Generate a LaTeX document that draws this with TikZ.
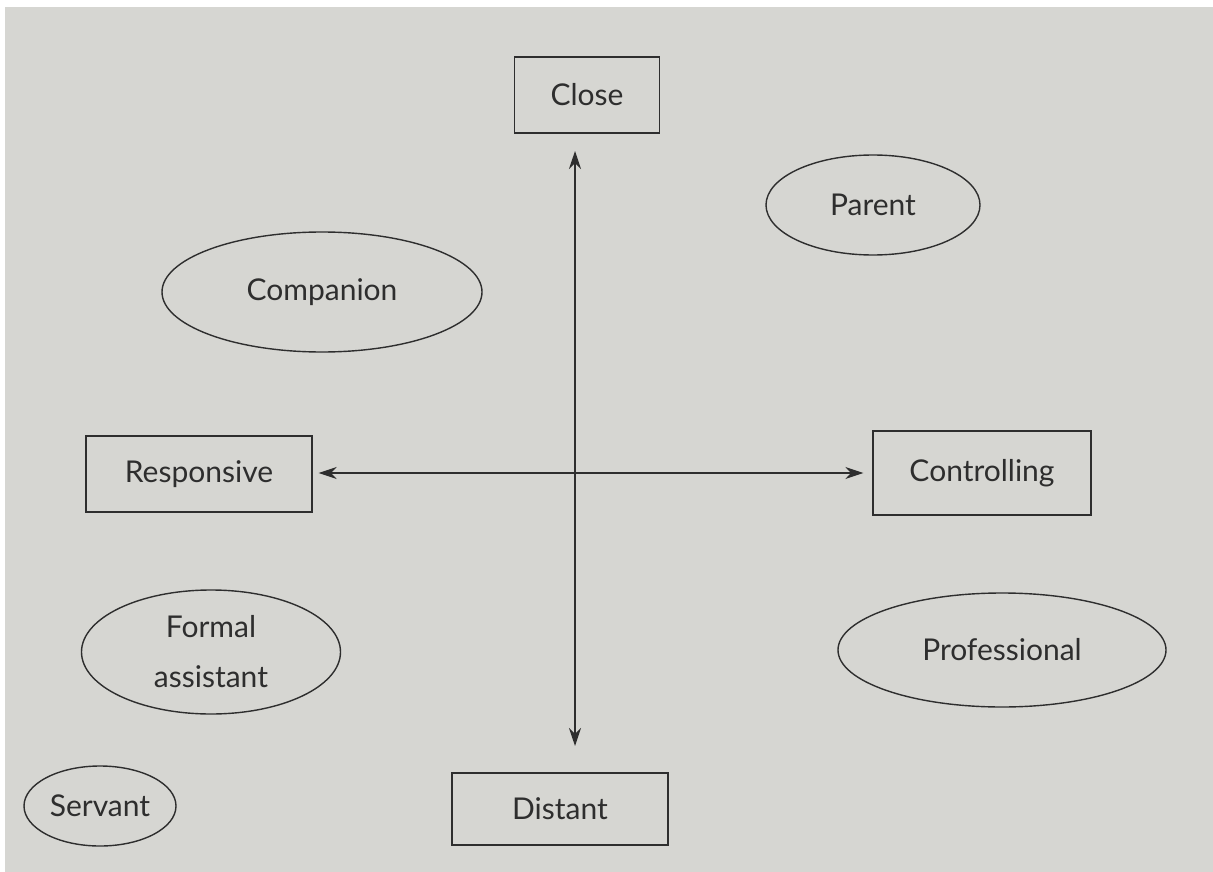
\documentclass[tikz,border=0pt]{standalone}
\usepackage{fontspec}
\setmainfont{Lato}
\usetikzlibrary{shapes.geometric,arrows.meta}
\definecolor{paper}{HTML}{D6D6D2}
\definecolor{ink}{HTML}{2E2E2E}
\tikzset{
  lbl/.style={font=\fontsize{30}{35}\selectfont, text=ink},
  box/.style={lbl, draw=ink, line width=1.4pt, rectangle, inner sep=0pt},
  oval/.style={lbl, draw=ink, line width=1.4pt, ellipse, inner sep=0pt},
  axis/.style={draw=ink, line width=1.3pt, {Stealth[length=18pt,width=12pt]}-{Stealth[length=18pt,width=12pt]}}
}
\begin{document}
\begin{tikzpicture}[x=1pt,y=-1pt]
\useasboundingbox (0,0) rectangle (1213,872);
\fill[white] (0,0) rectangle (1213,872);
\fill[paper] (5,7) rectangle (1213,872);
\node[box, minimum width=145pt, minimum height=76pt] (close) at (587,95) {Close};
\node[box, minimum width=226pt, minimum height=76pt] (resp) at (199,474) {Responsive};
\node[box, minimum width=218pt, minimum height=84pt] (ctrl) at (982,473) {Controlling};
\node[box, minimum width=216pt, minimum height=72pt] (dist) at (560,809) {Distant};
\node[oval, minimum width=214pt, minimum height=100pt] (parent) at (873,205) {Parent};
\node[oval, minimum width=320pt, minimum height=120pt] (comp) at (322,292) {Companion};
\node[oval, minimum width=259pt, minimum height=124pt, align=center] (formal) at (211,652) {Formal\\[15pt]assistant};
\node[oval, minimum width=328pt, minimum height=114pt] (prof) at (1002,650) {Professional};
\node[oval, minimum width=152pt, minimum height=80pt] (serv) at (100,806) {Servant};
\coordinate (vtop) at (575,151);
\coordinate (vbot) at (575,746);
\draw[axis] (vtop) -- (vbot);
\draw[axis, shorten <=6pt, shorten >=9pt] (resp.east |- 0,473) -- (ctrl.west |- 0,473);
\end{tikzpicture}
\end{document}
